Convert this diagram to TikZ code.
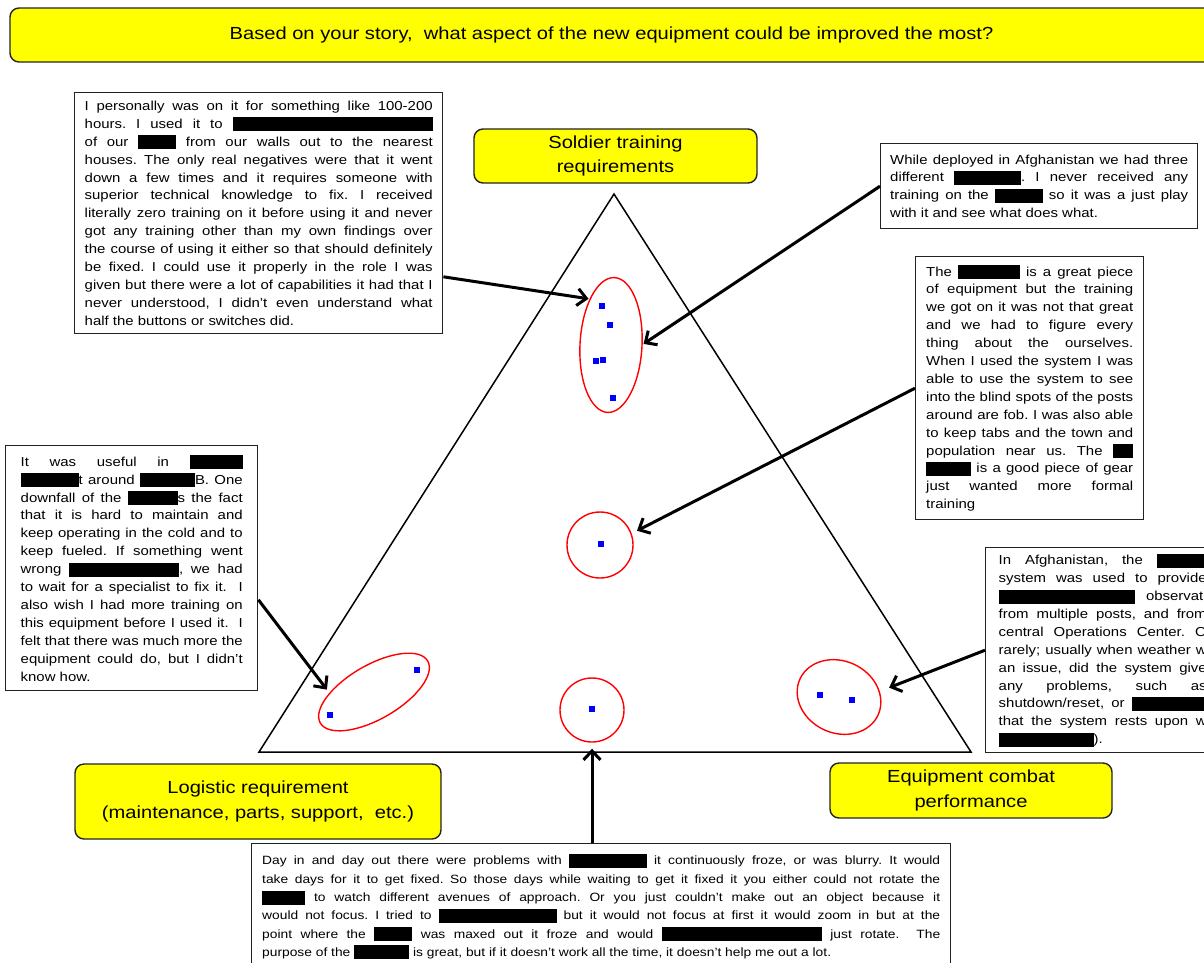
\documentclass[tikz,border=0pt]{standalone}
\usepackage{fontspec}
\setmainfont{Liberation Sans}[FakeStretch=1.15]
\usepackage{tikz}
\usetikzlibrary{arrows.meta,shapes.geometric}
\definecolor{QYellow}{HTML}{FFFF00}
\definecolor{QRed}{HTML}{FF0000}
\definecolor{QBlue}{HTML}{0000FF}
\definecolor{QLine}{HTML}{222222}
\newcommand{\redact}[1]{\rule[-3pt]{#1}{14pt}}
\frenchspacing
\tikzset{
  quotebox/.style={draw=QLine,line width=1.4pt,fill=white,align=justify,inner ysep=0pt,
    font=\fontsize{13}{17.9}\selectfont},
  tagbox/.style={draw=QLine,line width=1.4pt,fill=QYellow,rounded corners=9pt,align=center,
    font=\fontsize{17.5}{24.5}\selectfont},
  spotring/.style={draw=QRed,line width=1.4pt,ellipse,inner sep=0pt},
  bluedot/.style={fill=QBlue,minimum size=6pt,inner sep=0pt},
  pointer/.style={line width=3pt,-{Straight Barb[length=9pt,width=17pt]}}
}

\begin{document}
\begin{tikzpicture}[x=1pt,y=1pt]
\path[use as bounding box] (0,0) rectangle (1204,-962);
\clip (0,0) rectangle (1204,-962);
\fill[white] (0,0) rectangle (1204,-962);

\node[tagbox,minimum width=1203pt,minimum height=54pt] (titleBox) at (611.5,-35)
  {Based on your story,~ what aspect of the new equipment could be improved the most?};

\draw[line width=1.5pt] (614,-194) -- (971,-752) -- (259,-752) -- cycle;

\node[spotring,minimum width=62pt,minimum height=135pt,rotate=-3] (ringTop) at (611,-345) {};
\node[spotring,minimum width=66pt,minimum height=66pt] (ringMid) at (600,-545) {};
\node[spotring,minimum width=124pt,minimum height=54pt,rotate=30] (ringLL) at (374,-692) {};
\node[spotring,minimum width=64pt,minimum height=64pt] (ringLow) at (592,-710) {};
\node[spotring,minimum width=86pt,minimum height=72pt,rotate=-25] (ringLR) at (839,-697) {};

\node[bluedot] (dotA) at (602,-306) {};
\node[bluedot] (dotB) at (610,-325) {};
\node[bluedot] (dotC) at (596,-361) {};
\node[bluedot] (dotD) at (603,-360) {};
\node[bluedot] (dotE) at (613,-398) {};
\node[bluedot] (dotF) at (601,-544) {};
\node[bluedot] (dotG) at (417,-670) {};
\node[bluedot] (dotH) at (330,-715) {};
\node[bluedot] (dotI) at (592,-709) {};
\node[bluedot] (dotJ) at (820,-695) {};
\node[bluedot] (dotK) at (852,-700) {};

\node[tagbox,minimum width=283pt,minimum height=54pt] (tagSoldier) at (615.5,-156)
  {Soldier training\\requirements};
\node[tagbox,minimum width=366pt,minimum height=75pt] (tagLogistic) at (258,-801.5)
  {Logistic requirement\\(maintenance, parts, support,~ etc.)};
\node[tagbox,minimum width=282pt,minimum height=55pt] (tagEquip) at (971,-790.5)
  {Equipment combat\\performance};

\node[quotebox,anchor=north west,text width=348pt,inner xsep=10pt,minimum height=241pt] (boxTL) at (74,-92)
  {I personally was on it for something like 100-200\linebreak
   hours. I used it to \redact{200pt}\linebreak
   of our \redact{38pt} from our walls out to the nearest\linebreak
   houses. The only real negatives were that it went\linebreak
   down a few times and it requires someone with\linebreak
   superior technical knowledge to fix. I received\linebreak
   literally zero training on it before using it and never\linebreak
   got any training other than my own findings over\linebreak
   the course of using it either so that should definitely\linebreak
   be fixed. I could use it properly in the role I was\linebreak
   given but there were a lot of capabilities it had that I\linebreak
   never understood, I didn't even understand what\linebreak
   half the buttons or switches did.};

\node[quotebox,anchor=north west,text width=298pt,inner xsep=9.5pt,minimum height=85pt] (boxTR) at (880,-143)
  {While deployed in Afghanistan we had three\linebreak
   different \redact{67pt}. I never received any\linebreak
   training on the \redact{48pt} so it was a just play\linebreak
   with it and see what does what.};

\node[quotebox,anchor=north west,text width=207pt,inner xsep=10.5pt,minimum height=263pt] (boxRM) at (915,-256)
  {The \redact{62pt} is a great piece\linebreak
   of equipment but the training\linebreak
   we got on it was not that great\linebreak
   and we had to figure every\linebreak
   thing about the ourselves.\linebreak
   When I used the system I was\linebreak
   able to use the system to see\linebreak
   into the blind spots of the posts\linebreak
   around are fob. I was also able\linebreak
   to keep tabs and the town and\linebreak
   population near us. The \redact{20pt}\linebreak
   \redact{45pt} is a good piece of gear\linebreak
   just wanted more formal\linebreak
   training};

\node[quotebox,anchor=north west,text width=222pt,inner xsep=15pt,minimum height=245pt] (boxL) at (5,-445)
  {It was useful in \redact{53pt}\linebreak
   \redact{58pt}t around \redact{55pt}B. One\linebreak
   downfall of the \redact{50pt}s the fact\linebreak
   that it is hard to maintain and\linebreak
   keep operating in the cold and to\linebreak
   keep fueled. If something went\linebreak
   wrong \redact{110pt}, we had\linebreak
   to wait for a specialist to fix it.~ I\linebreak
   also wish I had more training on\linebreak
   this equipment before I used it.~ I\linebreak
   felt that there was much more the\linebreak
   equipment could do, but I didn't\linebreak
   know how.};

\node[quotebox,anchor=north west,text width=208pt,inner xsep=13pt,minimum height=205pt] (boxRB) at (985,-547)
  {In Afghanistan, the \redact{50pt}\linebreak
   system was used to provide\linebreak
   \redact{136pt} observati\linebreak
   from multiple posts, and from\linebreak
   central Operations Center. O\linebreak
   rarely; usually when weather w\linebreak
   an issue, did the system give\linebreak
   any problems, such as\linebreak
   shutdown/reset, or \redact{75pt}\linebreak
   that the system rests upon w\linebreak
   \redact{95pt}).};

\node[quotebox,anchor=north west,text width=678pt,inner xsep=10.5pt,minimum height=126pt,
  font=\fontsize{12}{18.3}\selectfont] (boxBot) at (251,-843)
  {Day in and day out there were problems with \redact{78pt} it continuously froze, or was blurry. It would\linebreak
   take days for it to get fixed. So those days while waiting to get it fixed it you either could not rotate the\linebreak
   \redact{43pt} to watch different avenues of approach. Or you just couldn't make out an object because it\linebreak
   would not focus. I tried to \redact{118pt} but it would not focus at first it would zoom in but at the\linebreak
   point where the \redact{38pt} was maxed out it froze and would \redact{160pt} just rotate.~ The\linebreak
   purpose of the \redact{55pt} is great, but if it doesn't work all the time, it doesn't help me out a lot.};

\draw[pointer,shorten >=1pt] (boxTL.-19) -- (ringTop.118);
\draw[pointer,shorten >=1pt] (boxTR.west) -- (ringTop.4);
\draw[pointer,shorten >=6pt] (boxRM.west) -- (ringMid.20);
\draw[pointer,shorten >=4pt] (boxL.-14) -- (ringLL.151);
\draw[pointer,shorten >=6pt] (boxBot.north -| ringLow.south) -- (ringLow.south);
\draw[pointer,shorten >=10pt] (boxRB.west) -- (ringLR.33);
\end{tikzpicture}
\end{document}
